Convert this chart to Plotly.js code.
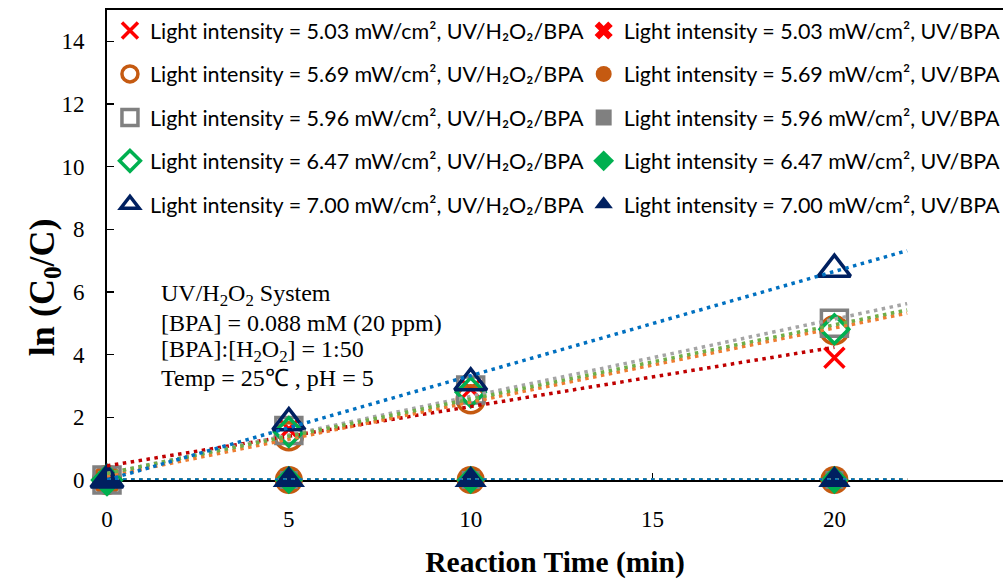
<!DOCTYPE html>
<html>
<head>
<meta charset="utf-8">
<script src="https://cdn.plot.ly/plotly-3.0.1.min.js"></script>
<style>html,body{margin:0;padding:0;background:#fff;}#chart{width:1003px;height:579px;}</style>
</head>
<body>
<div id="chart"></div>
<script>
// ---- data ----
const reactionTime = [0, 5, 10, 20];
const intensityLabels = ['5.03', '5.69', '5.96', '6.47', '7.00'];
// ln(C0/C), UV/H2O2/BPA system
const uvH2O2_503 = [0, 1.63, 2.90, 3.90];
const uvH2O2_569 = [0, 1.40, 2.58, 4.78];
const uvH2O2_596 = [0, 1.58, 2.87, 5.00];
const uvH2O2_647 = [0, 1.53, 2.80, 4.81];
const uvH2O2_700 = [0, 1.83, 3.10, 6.73];
// ln(C0/C), UV/BPA (no H2O2)
const uvOnly_503 = [0, 0, 0, 0];
const uvOnly_569 = [0, 0, 0, 0];
const uvOnly_596 = [0, 0, 0, 0];
const uvOnly_647 = [0, 0, 0, 0];
const uvOnly_700 = [0, 0, 0, 0];
// how far each linear trendline extends (min)
const trendEndH2O2 = [20, 22, 22, 22, 22];
const trendEndUV = [22, 22, 22, 22, 22];

const h2o2Series = [uvH2O2_503, uvH2O2_569, uvH2O2_596, uvH2O2_647, uvH2O2_700];
const uvSeries = [uvOnly_503, uvOnly_569, uvOnly_596, uvOnly_647, uvOnly_700];

// ---- styles ----
const markerColors = ['#FF0000', '#C55A11', '#808080', '#00B050', '#002060'];
const trendColors = ['#C00000', '#ED7D31', '#A5A5A5', '#70AD47', '#0070C0'];
const openSymbols = ['x-thin-open', 'circle-open', 'square-open', 'diamond-open', 'triangle-up-open'];
const filledSymbols = ['x', 'circle', 'square', 'diamond', 'triangle-up'];
const openSizes = [20, 27, 26, 22, 28];
const filledSizes = [16, 28, 18, 22, 28];

function linFit(xs, ys) {
  const n = xs.length;
  const mx = xs.reduce((a, b) => a + b, 0) / n;
  const my = ys.reduce((a, b) => a + b, 0) / n;
  let sxx = 0, sxy = 0;
  for (let i = 0; i < n; i++) { sxx += (xs[i] - mx) ** 2; sxy += (xs[i] - mx) * (ys[i] - my); }
  const m = sxx ? sxy / sxx : 0;
  return [m, my - m * mx];
}

const legendFont = {family: 'Lato, "Open Sans", sans-serif', size: 21.5, color: '#000'};
const traces = [];
for (let i = 0; i < 5; i++) {
  traces.push({
    type: 'scatter', mode: 'markers', x: reactionTime, y: h2o2Series[i],
    name: 'Light intensity = ' + intensityLabels[i] + ' mW/cm², UV/H₂O₂/BPA',
    legend: 'legend', legendgroup: 'a' + i, cliponaxis: false,
    marker: {symbol: openSymbols[i], size: openSizes[i], color: markerColors[i],
             line: {color: markerColors[i], width: 3.5}}
  });
  traces.push({
    type: 'scatter', mode: 'markers', x: reactionTime, y: uvSeries[i],
    name: 'Light intensity = ' + intensityLabels[i] + ' mW/cm², UV/BPA',
    legend: 'legend2', legendgroup: 'b' + i, cliponaxis: false,
    marker: {symbol: filledSymbols[i], size: filledSizes[i], color: markerColors[i],
             line: {width: 0}}
  });
}
function trendTrace(xs, ys, end, color) {
  const [m, b] = linFit(xs, ys);
  return {type: 'scatter', mode: 'lines', x: [0, end], y: [b, b + m * end],
          showlegend: false, hoverinfo: 'skip',
          line: {color: color, width: 3.5, dash: '3.5px,4.5px'}};
}
for (let i = 0; i < 5; i++) traces.push(trendTrace(reactionTime, uvSeries[i], trendEndUV[i], trendColors[i]));
for (let i = 0; i < 5; i++) traces.push(trendTrace(reactionTime, h2o2Series[i], trendEndH2O2[i], trendColors[i]));

const serif = '"Liberation Serif", "Times New Roman", serif';
const annFont = {family: serif, size: 24, color: '#000'};
const noteLines = [
  'UV/H<sub>2</sub>O<sub>2</sub> System',
  '[BPA] = 0.088 mM (20 ppm)',
  '[BPA]:[H<sub>2</sub>O<sub>2</sub>] = 1:50',
  'Temp = 25℃ , pH = 5'
];
const noteY = [5.90, 5.01, 4.12, 3.26];

const annotations = noteLines.map((t, k) => ({
  text: t, x: 1.42, y: noteY[k], xref: 'x', yref: 'y',
  xanchor: 'left', yanchor: 'middle', showarrow: false, align: 'left', font: annFont
}));
// y-axis title, placed like the reference (below the plot-area centre)
annotations.push({
  text: 'ln (C<sub>0</sub>/C)', textangle: -90,
  xref: 'paper', yref: 'paper', x: -0.0705, y: 0.41,
  xanchor: 'center', yanchor: 'middle', showarrow: false,
  font: {family: serif, size: 36, color: '#000', weight: 'bold'}
});

const layout = {
  width: 1003, height: 579,
  margin: {l: 107, r: 0, t: 10, b: 99, autoexpand: false},
  paper_bgcolor: '#fff', plot_bgcolor: '#fff',
  showlegend: true,
  xaxis: {
    range: [0, 896 / 36.37], tick0: 0, dtick: 5,
    showgrid: false, zeroline: false,
    showline: true, linecolor: '#000', linewidth: 2, mirror: true,
    ticks: 'inside', ticklen: 7, tickwidth: 1.5, tickcolor: '#000',
    ticklabelstandoff: 17, layer: 'below traces',
    tickfont: {family: serif, size: 23, color: '#000'},
    title: {text: 'Reaction Time (min)', standoff: 40,
            font: {family: serif, size: 29.5, color: '#000', weight: 'bold'}}
  },
  yaxis: {
    range: [0, 15], tick0: 0, dtick: 2,
    showgrid: false, zeroline: false,
    showline: true, linecolor: '#000', linewidth: 2,
    ticks: 'inside', ticklen: 7, tickwidth: 1.5, tickcolor: '#000',
    ticklabelstandoff: 16, layer: 'below traces',
    tickfont: {family: serif, size: 23, color: '#000'}
  },
  legend: {
    x: 0.0033, y: 1.0, xanchor: 'left', yanchor: 'top',
    bgcolor: 'rgba(0,0,0,0)', borderwidth: 0, font: legendFont,
    traceorder: 'grouped', tracegroupgap: 12.5, itemclick: false, itemdoubleclick: false
  },
  legend2: {
    x: 0.532, y: 1.0, xanchor: 'left', yanchor: 'top',
    bgcolor: 'rgba(0,0,0,0)', borderwidth: 0, font: legendFont,
    traceorder: 'grouped', tracegroupgap: 12.5, itemclick: false, itemdoubleclick: false
  },
  annotations: annotations
};

Plotly.newPlot('chart', traces, layout, {displayModeBar: false, staticPlot: true});
</script>
</body>
</html>
